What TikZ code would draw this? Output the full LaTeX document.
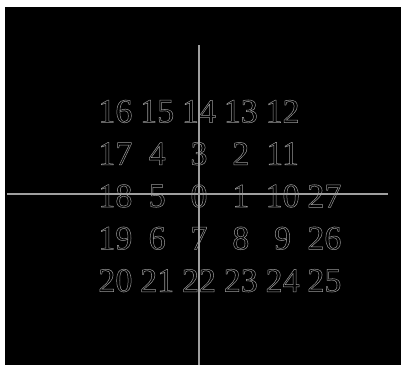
\documentclass[tikz,border=0pt]{standalone}
\usepackage{fontspec}
\setmainfont{Liberation Serif}
\usepackage{tikz}
\usetikzlibrary{arrows.meta}

% hollow digits: stroke the glyph outlines only
\newcommand{\hollow}[1]{\special{pdf:code q 1 Tr 0.5 w}#1\special{pdf:code Q}}

\begin{document}
\begin{tikzpicture}[x=1pt, y=-1pt,
  num/.style={font=\fontsize{34}{34}\selectfont, text=gray!80, inner sep=0pt, anchor=center},
  axis/.style={line width=1.6pt, draw=gray!75},
]
\useasboundingbox (0,0) rectangle (401,365);
\fill[black] (5,7) rectangle (401,365);

% spiral of numbers: n / column / row
\foreach \n/\i/\j in {0/0/0, 1/1/0, 2/1/1, 3/0/1, 4/-1/1, 5/-1/0, 6/-1/-1, 7/0/-1,
  8/1/-1, 9/2/-1, 10/2/0, 11/2/1, 12/2/2, 13/1/2, 14/0/2, 15/-1/2, 16/-2/2,
  17/-2/1, 18/-2/0, 19/-2/-1, 20/-2/-2, 21/-1/-2, 22/0/-2, 23/1/-2, 24/2/-2,
  25/3/-2, 26/3/-1, 27/3/0}{
  \node[num] (n\n) at ({199+41.8*\i},{196-42.3*\j}) {\hollow{\n}};
}

\coordinate (xl) at (7,194);
\coordinate (xr) at (388,194);
\coordinate (yt) at (199,45);
\coordinate (yb) at (199,365);
\draw[axis] (xl) -- (xr);
\draw[axis] (yt) -- (yb);
\end{tikzpicture}
\end{document}
